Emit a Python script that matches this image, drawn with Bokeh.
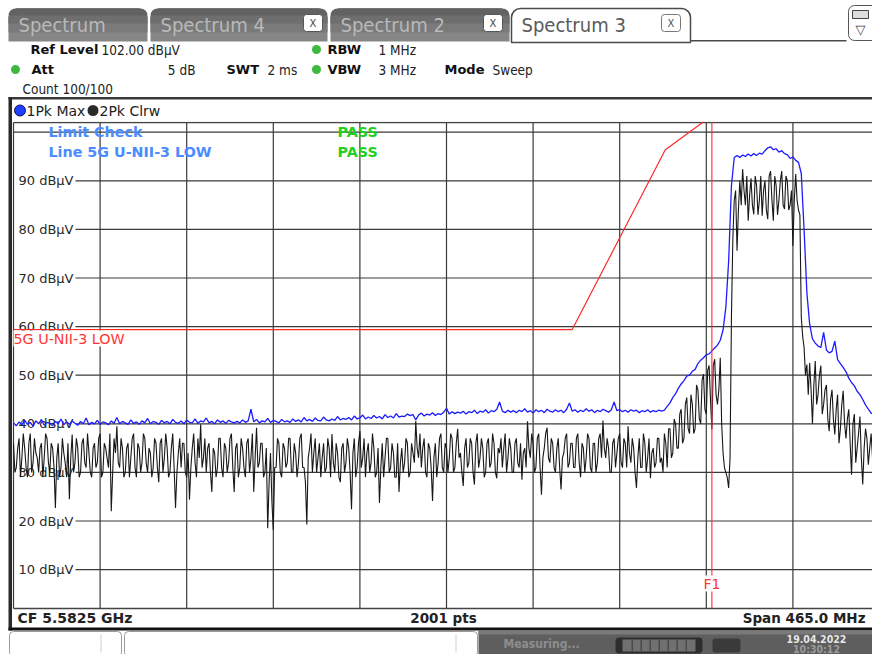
import numpy as np
from bokeh.plotting import figure
from bokeh.models import Range1d, Label, BoxAnnotation, ColumnDataSource
from bokeh.core.properties import value
from bokeh.embed import file_html
from bokeh.resources import INLINE

# ---------------- instrument settings ----------------
center_ghz = 5.5825
span_ghz = 0.465
instrument_points = 2001
ref_level_dbuv = 102.0
display_range_db = 100.0

# ---------------- traces (dBuV) ----------------
# trace 1 (1Pk Max): 1.5 MHz steps across the span
trace1_pk_max = [
    40.2, 39.6, 40.4, 39.8, 40.7, 39.9, 40.3, 39.5, 40.6, 40.0, 40.9, 39.7, 40.3, 40.1, 39.6, 40.5, 40.0, 41.0, 39.8, 40.4,
    39.9, 40.6, 40.1, 39.7, 40.5, 40.0, 41.2, 39.8, 40.3, 40.0, 40.7, 39.9, 40.4, 40.2, 39.8, 40.6, 40.1, 41.3, 40.0, 40.5,
    40.2, 39.9, 40.8, 40.1, 40.4, 39.9, 40.6, 40.2, 41.1, 40.0, 40.5, 40.3, 39.9, 40.7, 40.2, 40.5, 40.0, 40.9, 40.3, 40.1,
    40.6, 40.0, 40.8, 40.3, 40.2, 41.0, 40.1, 40.6, 40.4, 41.2, 40.2, 40.5, 40.0, 40.8, 40.3, 40.6, 40.1, 40.7, 40.4, 40.2,
    40.5, 40.2, 40.8, 40.3, 40.6, 43.0, 40.4, 40.9, 40.2, 40.6, 40.4, 41.1, 40.3, 40.7, 40.5, 40.2, 40.9, 40.4, 40.6, 40.3,
    41.0, 40.5, 40.8, 40.4, 41.3, 40.6, 40.9, 40.5, 41.2, 40.7, 40.6, 41.4, 40.8, 40.6, 41.0, 40.7, 41.5, 40.8, 41.1, 40.9,
    41.3, 40.8, 41.6, 41.0, 41.2, 41.8, 41.0, 41.4, 41.1, 41.7, 41.2, 41.5, 41.0, 41.9, 41.3, 41.6, 41.2, 42.1, 41.4, 41.6,
    41.5, 42.0, 41.7, 41.9, 40.8, 41.8, 42.2, 41.6, 42.0, 41.8, 42.3, 41.7, 42.1, 41.9, 42.4, 43.2, 42.0, 42.5, 42.1, 42.4,
    42.2, 42.6, 42.0, 42.5, 42.3, 42.8, 42.1, 42.6, 42.4, 42.9, 42.2, 42.7, 42.5, 43.0, 44.5, 42.6, 42.3, 42.8, 42.4, 42.7,
    42.3, 42.8, 42.5, 43.1, 42.4, 42.7, 42.2, 42.9, 42.5, 42.8, 42.3, 43.0, 42.6, 42.4, 42.9, 42.5, 42.8, 42.3, 43.0, 44.3,
    42.6, 42.9, 42.4, 42.8, 42.5, 43.1, 42.6, 42.9, 42.3, 42.8, 42.5, 43.0, 42.7, 42.4, 42.9, 44.5, 42.7, 42.9, 42.5, 42.8,
    42.4, 42.9, 42.6, 42.8, 42.3, 42.7, 42.5, 42.9, 42.4, 42.7, 42.5, 42.8,
    42.6, 42.8, 43.6, 44.3, 45.4, 46.2, 47.3, 48.2, 48.9, 49.8, 50.0, 50.8, 51.2, 52.4, 53.1, 53.6, 54.2, 54.4, 55.0, 55.6,
    56.2, 57.2, 59.3, 64.0, 73.5, 89.0,
    94.8, 95.2, 94.8, 95.3, 95.0, 95.5, 95.1, 95.6, 95.2, 95.7, 95.5, 96.2, 96.8, 97.0, 96.4, 96.6, 95.9, 96.2, 95.6, 95.4,
    94.6, 94.9, 94.2, 93.8,
    91.5, 80.0, 67.0, 60.5, 57.5, 56.6, 56.0, 55.7, 58.8, 55.2, 54.6, 54.9, 57.0, 53.2, 52.4, 51.6, 50.7, 49.4, 48.5, 47.8,
    46.7, 46.0, 45.0, 43.9, 43.0, 42.2, 41.9, 41.6, 41.4,
]

# trace 2 (2Pk Clrw): samples on the same 1.5 MHz grid ...
trace2_pk_clrw = [
    36, 31, 37, 33, 35, 29, 38, 32, 34, 30, 36, 33, 37, 30, 35, 22.7, 36, 31, 34, 29,
    24.5, 37.8, 32, 35, 30, 37, 31, 34, 29, 36, 32, 38, 30, 35, 31, 22, 37, 39.5, 31, 35,
    30, 36, 33, 38, 29, 35, 32, 37, 30, 34, 31, 36, 28, 37, 33, 35, 30, 38, 22.7, 34,
    31, 36, 29, 24.4, 35, 32, 37, 39.9, 33, 30, 36, 26, 34, 31, 37, 29, 35, 32, 38, 26,
    36, 31, 35, 29, 37, 33, 26, 39.2, 32, 36, 30, 18.5, 34, 18.2, 31, 36, 29, 35, 32, 37,
    30, 34, 32, 38, 31, 19.3, 35, 30, 37, 33, 29, 36, 31, 35, 37.9, 30, 34, 28, 36, 32,
    35, 22.4, 37, 31, 38.5, 33, 29, 36, 32, 35, 30, 23.7, 36, 33, 37, 31, 34, 29, 26, 35,
    32, 36, 30, 34, 40.6, 33, 31, 37, 29, 35, 24.1, 36, 32, 38, 30, 35, 33, 37, 31, 39,
    34, 27.2, 37, 32, 36, 27.5, 38, 33, 35, 30, 37, 32, 36, 28.8, 34, 31, 38, 33, 35, 30,
    37, 31, 28.5, 35, 40.5, 33, 36, 31, 38, 25.4, 35, 39.2, 32, 36, 30, 37, 26.5, 34, 38, 32,
    36, 31, 38, 29, 35, 33, 37, 30, 36, 32, 38, 40.7, 33, 35, 30, 37, 34, 38, 31, 36,
    39.5, 32, 35, 26.8, 37, 31, 36, 33, 28.8, 35, 32, 37,
    33, 38, 31, 39, 34, 40, 35, 43, 37, 45.4, 38, 44, 39, 47, 40, 50.2, 42, 52, 38.9, 53.3,
    44, 53.6, 34, 30, 26.8, 62,
    86, 75.6, 90, 92.4, 85, 81.8, 90.5, 83.1, 89, 86, 82.8, 90, 82.1, 92, 81.8, 89, 86, 92, 84.2, 90,
    85, 76.6, 91.4, 84,
    62, 55.7, 52.2,
    52.5, 40, 52.9, 46, 52, 44, 48, 38.5, 47, 37.8, 46, 39, 46.8, 37, 43, 29.5, 42, 35, 41.5, 27.5,
    39, 31.6, 38, 31, 36, 30,
]
# ... and the samples half way between them (0.75 MHz offset)
trace2_pk_clrw_mid = [
    30, 35, 29, 38, 31, 36, 30, 37, 33, 35, 29, 38, 32, 36, 31, 33, 29, 37, 32, 36,
    33, 30, 37, 29, 36, 32, 38, 30, 35, 31, 37, 29, 36, 33, 38, 30, 34, 32, 37, 29,
    35, 29, 37, 31, 36, 30, 38, 32, 35, 29, 37, 31, 36, 30, 38, 29, 35, 31, 30, 37,
    36, 30, 34, 31, 38, 29, 33, 31, 37, 35, 30, 35, 29, 37, 31, 36, 30, 37, 31, 35,
    29, 37, 31, 36, 30, 38, 33, 31, 36, 29, 35, 28, 24, 31, 37, 30, 36, 31, 37, 30,
    36, 29, 37, 31, 28, 33, 38, 34, 30, 36, 33, 30, 37, 29, 32, 36, 29, 35, 30, 37,
    30, 34, 29, 36, 31, 37, 34, 30, 38, 29, 35, 31, 29, 37, 30, 36, 29, 36, 32, 30,
    37, 29, 36, 32, 35, 38, 35, 30, 36, 31, 33, 29, 37, 31, 36, 30, 38, 30, 36, 33,
    30, 35, 31, 37, 30, 36, 31, 37, 29, 36, 31, 38, 30, 35, 37, 35, 30, 37, 30, 36,
    32, 36, 34, 31, 35, 38, 30, 37, 31, 33, 38, 33, 37, 31, 35, 31, 33, 37, 31, 36,
    31, 37, 32, 36, 30, 38, 31, 36, 30, 37, 33, 35, 37, 30, 36, 31, 37, 32, 37, 31,
    34, 37, 30, 33, 31, 38, 30, 37, 34, 31, 37, 32,
    30, 36, 39, 33, 41, 35, 42, 36, 44, 39, 46, 38, 48, 41, 49, 43, 51, 45, 52, 46,
    47, 40, 31, 29, 33,
    78,
    88, 84, 85, 88, 91, 87, 85, 91, 83, 91, 88, 84, 91, 86, 91, 83, 90, 85, 91, 84,
    88, 86, 86,
    83, 58, 50, 46,
    47, 48, 44, 50, 42, 47, 41, 45, 41, 43, 36, 44, 40, 41, 36, 40, 32, 38, 33, 35,
    37, 35, 33, 37, 33,
]

# ---------------- limit line & marker ----------------
limit_freq_ghz = [5.35, 5.65, 5.70, 5.72, 5.725]
limit_dbuv = [59.4, 59.4, 96.4, 102.0, 113.4]
limit_name = "5G U-NII-3 LOW"
f1_ghz = 5.725

y_tick_values = [10, 20, 30, 40, 50, 60, 70, 80, 90]
y_tick_labels = [f"{v} dB\u00b5V" for v in y_tick_values]

# ---------------- geometry of the screen (pixels) ----------------
W, H = 872, 654
PLOT_LEFT, PLOT_TOP, PLOT_BOTTOM = 13, 122, 608
PX_PER_DIV = 86.6
LABEL_GAP_PX = 62          # labelled grid rows start after their label

start = center_ghz - span_ghz / 2
stop = center_ghz + span_ghz / 2
top_db = ref_level_dbuv
bottom_db = ref_level_dbuv - display_range_db
px_per_ghz = PX_PER_DIV / (span_ghz / 10)
px_per_db = (PLOT_BOTTOM - PLOT_TOP) / display_range_db
x_lo = start - PLOT_LEFT / px_per_ghz
x_hi = start + (W - PLOT_LEFT) / px_per_ghz
y_lo = bottom_db - (H - PLOT_BOTTOM) / px_per_db
y_hi = top_db + PLOT_TOP / px_per_db

p = figure(width=W, height=H, x_range=Range1d(x_lo, x_hi), y_range=Range1d(y_lo, y_hi),
           x_axis_location=None, y_axis_location=None,
           toolbar_location=None, output_backend="svg",
           min_border=0, min_border_left=0, min_border_right=0,
           min_border_top=0, min_border_bottom=0)
p.background_fill_color = "white"
p.border_fill_color = "white"
p.outline_line_color = None
p.grid.visible = False

GRID = "#3a3a3a"
# vertical grid (10 divisions of the span)
vx = [start + k * span_ghz / 10 for k in range(11)]
p.segment(x0=vx, y0=[bottom_db] * len(vx), x1=vx, y1=[top_db] * len(vx),
          line_color=GRID, line_width=1.2)
# horizontal grid: labelled rows start after the label, the 100 dBuV row is full width
x_after_label = start + LABEL_GAP_PX / px_per_ghz
p.segment(x0=[x_after_label] * len(y_tick_values), y0=y_tick_values,
          x1=[x_hi] * len(y_tick_values), y1=y_tick_values, line_color=GRID, line_width=1.2)
p.segment(x0=[start], y0=[top_db - 2], x1=[x_hi], y1=[top_db - 2],
          line_color=GRID, line_width=1.2)
# diagram box (top / bottom edges)
p.segment(x0=[start, start], y0=[top_db, bottom_db], x1=[x_hi, x_hi], y1=[top_db, bottom_db],
          line_color="#444444", line_width=1.3)

# y labels inside the plot area
p.text(x=[start] * len(y_tick_values), y=y_tick_values, text=y_tick_labels, x_offset=5,
       text_baseline="middle", text_align="left", text_font=value("DejaVu Sans"),
       text_font_size="13px", text_color="#2a2a2a")

# traces
f1_grid = np.linspace(start, stop, len(trace1_pk_max))
clrw = np.empty(len(trace2_pk_clrw) + len(trace2_pk_clrw_mid))
clrw[0::2] = trace2_pk_clrw
clrw[1::2] = trace2_pk_clrw_mid
f2_grid = np.linspace(start, stop, len(clrw))
p.line(f2_grid, clrw, line_color="#181818", line_width=1.1)
p.line(f1_grid, trace1_pk_max, line_color="#1c1cff", line_width=1.3)

# limit line
p.line(limit_freq_ghz, limit_dbuv, line_color="#ff2a2a", line_width=1.2)

# F1 frequency line
p.segment(x0=[f1_ghz], y0=[bottom_db], x1=[f1_ghz], y1=[top_db], line_color="#ff2a2a", line_width=1.1)


# ---------------- UI decoration helpers (page pixel positions) ----------------
def B(x0, y0, x1, y1, fill, line=None, radius=0, lw=1.0):
    if isinstance(radius, tuple):
        radius = tuple(int(r) for r in radius)
    else:
        radius = int(round(radius))
    p.add_layout(BoxAnnotation(left=x0, right=x1, top=H - y0, bottom=H - y1,
                               left_units="screen", right_units="screen",
                               top_units="screen", bottom_units="screen",
                               fill_color=fill, fill_alpha=1.0,
                               line_color=line if line else fill, line_alpha=1.0 if line else 0.0,
                               line_width=lw, border_radius=radius))


def L(x, y, text, size=12, color="#222222", bold=False, align="left", font="DejaVu Sans", bg=None):
    p.add_layout(Label(x=x, y=H - y, x_units="screen", y_units="screen", text=text,
                       text_font=font, text_font_size=f"{size}px", text_color=color,
                       text_font_style="bold" if bold else "normal",
                       text_align=align, text_baseline="middle",
                       background_fill_color=bg))


COND = "DejaVu Sans Condensed"

# white header area (hides the limit line above the reference level)
B(0, 0, W, PLOT_TOP - 0.8, "white")

# labels attached to data
p.add_layout(Label(x=start, y=limit_dbuv[0], y_offset=-1, text=limit_name,
                   text_baseline="top", text_align="left", text_font="DejaVu Sans",
                   text_font_size="14.3px", text_color="#ff3535",
                   background_fill_color="white"))
p.add_layout(Label(x=f1_ghz, y=H - 583, x_units="data", y_units="screen", text="F1",
                   text_align="center", text_baseline="middle", text_font="DejaVu Sans",
                   text_font_size="14px", text_color="#ff3535", background_fill_color="white"))

# tabs (gray gradient imitated by strips)
for (x0, x1, name, xb) in [(8, 147, "Spectrum", None), (150, 327, "Spectrum 4", 303),
                           (330, 509, "Spectrum 2", 483)]:
    B(x0, 8, x1, 41, "#868686", radius=(9, 9, 0, 0))
    B(x0, 8, x1, 32, "#7a7a7a", radius=(9, 9, 0, 0))
    B(x0, 8, x1, 23, "#6e6e6e", radius=(9, 9, 0, 0))
    B(x0, 8, x1, 15, "#626262", radius=(9, 9, 0, 0))
    L(x0 + 10, 24, name, 20, "#b9b9b9", font=COND)
    if xb:
        B(xb, 14, xb + 19, 31, "white", "#555555", radius=3)
        L(xb + 9.5, 22.5, "X", 11, "#444444", align="center", font=COND)
B(511, 8, 690, 42, "white", "#4a4a4a", radius=(9, 9, 0, 0), lw=1.5)
L(521, 24, "Spectrum 3", 20, "#5a5a5a", font=COND)
B(661, 14, 680, 31, "white", "#777777", radius=3)
L(670.5, 22.5, "X", 11, "#555555", align="center", font=COND)
B(690, 39.5, 846, 41, "#4a4a4a")
B(848, 5, 880, 40, "white", "#555555", radius=6)
B(852, 10, 868, 18, "#dddddd", "#444444")
L(860, 29, "\u25bd", 13, "#444444", align="center")

# setting rows
green = "#3fb83f"
B(311.5, 44.5, 320.5, 53.5, green, radius=5)
B(311.5, 64.5, 320.5, 73.5, green, radius=5)
B(10.5, 64.5, 19.5, 73.5, green, radius=5)
L(30, 49, "Ref Level", 13, "#111111", True)
L(101, 49, f"{ref_level_dbuv:.2f} dB\u00b5V", 13.5, "#222222", font=COND)
L(327, 49, "RBW", 13, "#111111", True)
L(378, 49, "1 MHz", 13.5, "#222222", font=COND)
L(31, 69, "Att", 13, "#111111", True)
L(195, 69, "5 dB", 13.5, "#222222", align="right", font=COND)
L(226, 69, "SWT", 13, "#111111", True)
L(267, 69, "2 ms", 13.5, "#222222", font=COND)
L(327, 69, "VBW", 13, "#111111", True)
L(378, 69, "3 MHz", 13.5, "#222222", font=COND)
L(444, 69, "Mode", 13, "#111111", True)
L(492, 69, "Sweep", 13.5, "#222222", font=COND)
L(22, 88, "Count 100/100", 13.5, "#222222", font=COND)

# diagram panel frame
B(8, 96.5, 880, 99, "#3a3a3a")
B(8, 96.5, 11.5, 630, "#2a2a2a")
B(8, 627, 880, 630, "#111111")

# trace legend row
B(14, 104.5, 25, 115.5, "#1f3fff", "#111155", radius=6)
L(26, 110.5, "1Pk Max", 14, "#222222")
B(87, 104.5, 98, 115.5, "#2a2a2a", radius=6)
L(99, 110.5, "2Pk Clrw", 14, "#222222")

# limit check texts
L(48, 131, "Limit Check", 14.3, "#4a8cff", True)
L(337, 131, "PASS", 14.3, "#22d022", True)
L(48, 151, "Line " + limit_name, 14.3, "#4a8cff", True)
L(337, 151, "PASS", 14.3, "#22d022", True)

# footer
L(17, 617, f"CF {center_ghz:.4f} GHz", 14, "#222222", True)
L(443, 617, f"{instrument_points} pts", 13.5, "#222222", True, align="center")
L(865, 617, f"Span {span_ghz * 1000:.1f} MHz", 13.5, "#222222", True, align="right")

# status bar
B(9, 631, 121, 656, "white", "#9a9a9a", radius=4)
B(100, 634, 101, 652, "#d0d0d0")
B(124, 631, 477, 656, "white", "#9a9a9a", radius=4)
B(455, 634, 456, 652, "#d0d0d0")
B(478, 630, 880, 656, "#5e5e5e")
B(478, 630, 880, 634, "#7a7a7a")
L(503, 643, "Measuring...", 12, "#8e8e8e", True, font=COND)
B(615, 637, 702, 653, "#2e2e2e", radius=4)
B(622, 639, 695, 651, "#707070")
for xs in [631, 640, 649, 658, 667, 676, 685]:
    B(xs, 639, xs + 1.5, 651, "#4a4a4a")
B(712, 638, 740, 652, "#3a3a3a", radius=3)
L(816, 638, "19.04.2022", 10.5, "#e6e6e6", True, align="center", font=COND)
L(816, 648, "10:30:12", 10.5, "#9a9a9a", True, align="center", font=COND)

open("out.html", "w").write(file_html(p, INLINE))
